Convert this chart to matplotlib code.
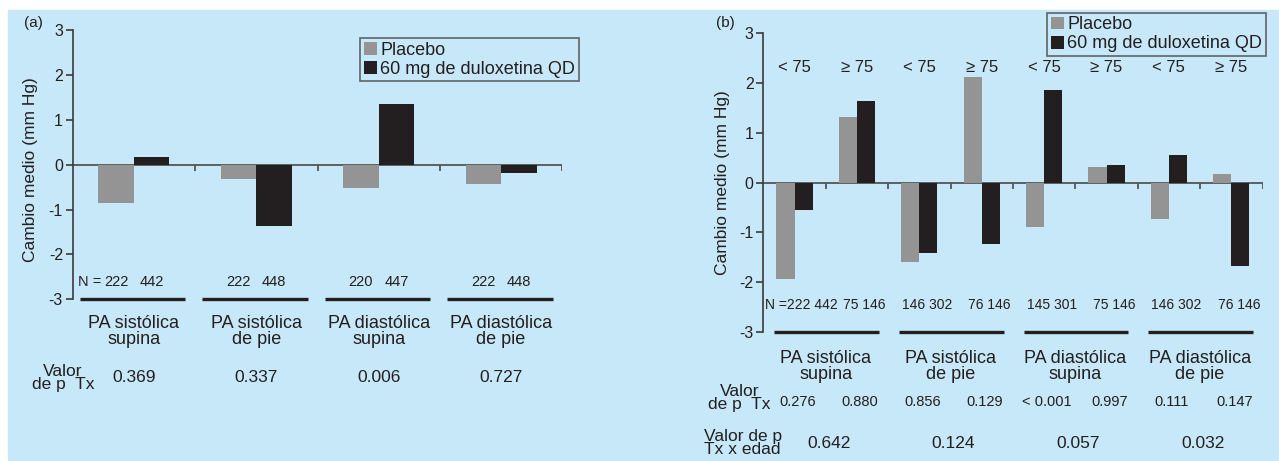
import numpy as np
import matplotlib
matplotlib.use("Agg")
import matplotlib.pyplot as plt
from matplotlib.patches import Rectangle, Patch

plt.rcParams['font.family'] = ['Liberation Sans', 'DejaVu Sans']
plt.rcParams['axes.unicode_minus'] = False

# data
categories = ['PA sistólica\nsupina', 'PA sistólica\nde pie',
              'PA diastólica\nsupina', 'PA diastólica\nde pie']
series_names = ['Placebo', '60 mg de duloxetina QD']

a_placebo = [-0.85, -0.32, -0.51, -0.42]
a_dulox = [0.17, -1.36, 1.35, -0.18]
a_n_placebo = [222, 222, 220, 222]
a_n_dulox = [442, 448, 447, 448]
a_p_tx = ['0.369', '0.337', '0.006', '0.727']

age_labels = ['< 75', '≥ 75'] * 4
b_placebo = [-1.94, 1.32, -1.60, 2.12, -0.90, 0.31, -0.73, 0.18]
b_dulox = [-0.55, 1.64, -1.42, -1.24, 1.86, 0.36, 0.56, -1.68]
b_n_placebo = [222, 75, 146, 76, 145, 75, 146, 76]
b_n_dulox = [442, 146, 302, 146, 301, 146, 302, 146]
b_p_tx = ['0.276', '0.880', '0.856', '0.129', '< 0.001', '0.997', '0.111', '0.147']
b_p_age = ['0.642', '0.124', '0.057', '0.032']

c_placebo = '#949494'
c_dulox = '#231F20'
c_text = '#231F20'
c_bg = '#C6E8F8'
c_axis = '#3a3a3a'

W, H = 1279, 461
fig = plt.figure(figsize=(W / 100, H / 100), dpi=100, facecolor='white')
fig.patches.append(Rectangle((8 / W, 0), 1 - 8 / W, 1 - 10 / H,
                             transform=fig.transFigure, color=c_bg, zorder=-10))


def style_axis(ax, nslots, tick_len):
    ax.set_facecolor('none')
    for s in ['top', 'right', 'bottom']:
        ax.spines[s].set_visible(False)
    ax.spines['left'].set_color(c_axis)
    ax.spines['left'].set_linewidth(1.2)
    ax.set_ylim(-3, 3)
    ax.set_xlim(0, nslots)
    ax.set_yticks(np.arange(-3, 4))
    ax.tick_params(axis='y', length=5, width=1.2, color=c_axis, pad=2,
                   labelsize=11.5, labelcolor=c_text)
    ax.set_xticks([])
    ax.axhline(0, color='#555555', lw=1.3, zorder=1)
    ax.vlines(np.arange(1, nslots + 1), 0, -tick_len, color='#555555', lw=1.3)


def add_legend(ax, x, y):
    handles = [Patch(facecolor=c_placebo, edgecolor='none'),
               Patch(facecolor=c_dulox, edgecolor='none')]
    leg = ax.legend(handles, series_names, loc='upper left',
                    bbox_to_anchor=(x / W, 1 - y / H), bbox_transform=fig.transFigure,
                    borderaxespad=0, fancybox=False, fontsize=13,
                    handlelength=0.72, handleheight=0.72, handletextpad=0.2,
                    labelspacing=0.12, borderpad=0.2, frameon=True)
    fr = leg.get_frame()
    fr.set_edgecolor('#444444')
    fr.set_facecolor('none')
    fr.set_linewidth(1.2)
    for t in leg.get_texts():
        t.set_color(c_text)


# ---- panel (a)
axa = fig.add_axes([72.7 / W, 1 - 299.3 / H, 489.6 / W, 269.3 / H])
style_axis(axa, 4, 0.15)
xa = np.arange(4) + 0.5
bw = 0.29
axa.bar(xa - bw / 2, a_placebo, bw, color=c_placebo, zorder=2)
axa.bar(xa + bw / 2, a_dulox, bw, color=c_dulox, zorder=2)
axa.hlines(np.full(4, -3.0), np.arange(4) + 0.06, np.arange(4) + 0.92,
           color=c_text, lw=2.4, clip_on=False)
axa.text(0.04, -2.62, 'N =', fontsize=10.5, color=c_text, ha='left', va='center')
for i in range(4):
    axa.text(xa[i] - bw / 2, -2.62, str(a_n_placebo[i]), fontsize=10.5, color=c_text,
             ha='center', va='center')
    axa.text(xa[i] + bw / 2, -2.62, str(a_n_dulox[i]), fontsize=10.5, color=c_text,
             ha='center', va='center')
    axa.text(xa[i], -3.72, categories[i], fontsize=13, color=c_text, ha='center',
             va='center', linespacing=0.9, clip_on=False)
    axa.text(xa[i], -4.75, a_p_tx[i], fontsize=12.5, color=c_text, ha='center',
             va='center', clip_on=False)
axa.text(-0.08, -4.75, 'Valor\nde p  Tx', fontsize=12.5, color=c_text, ha='center',
         va='center', linespacing=0.85, clip_on=False)
axa.text(-0.086, 0.48, 'Cambio medio (mm Hg)', transform=axa.transAxes, rotation=90,
         fontsize=12.5, color=c_text, ha='center', va='center')
add_legend(axa, 360, 38)
fig.text(33 / W, 1 - 23 / H, '(a)', fontsize=11, color=c_text, ha='center', va='center')

# ---- panel (b)
axb = fig.add_axes([763.3 / W, 1 - 332.3 / H, 499.2 / W, 299.6 / H])
style_axis(axb, 8, 0.14)
xb = np.arange(8) + 0.5
axb.bar(xb - bw / 2, b_placebo, bw, color=c_placebo, zorder=2)
axb.bar(xb + bw / 2, b_dulox, bw, color=c_dulox, zorder=2)
gstart = np.arange(4) * 2
axb.hlines(np.full(4, -3.0), gstart + 0.17, gstart + 1.85, color=c_text, lw=2.4,
           clip_on=False)
for i in range(8):
    axb.text(xb[i], 2.31, age_labels[i], fontsize=12, color=c_text, ha='center', va='center')
    nstr = f'{b_n_placebo[i]} {b_n_dulox[i]}'
    if i == 0:
        axb.text(0.03, -2.45, 'N =' + nstr, fontsize=10, color=c_text, ha='left',
                 va='center')
    else:
        axb.text(xb[i] + 0.12, -2.45, nstr, fontsize=10, color=c_text, ha='center',
                 va='center')
    axb.text(xb[i] + 0.05, -4.40, b_p_tx[i], fontsize=10.5, color=c_text, ha='center',
             va='center', clip_on=False)
for g in range(4):
    axb.text(gstart[g] + 1, -3.685, categories[g], fontsize=13, color=c_text, ha='center',
             va='center', linespacing=0.9, clip_on=False)
    axb.text(gstart[g] + 1.05, -5.22, b_p_age[g], fontsize=12.5, color=c_text,
             ha='center', va='center', clip_on=False)
axb.text(-0.38, -4.32, 'Valor\nde p  Tx', fontsize=12.5, color=c_text, ha='center',
         va='center', linespacing=0.85, clip_on=False)
axb.text(-0.33, -5.22, 'Valor de p\nTx x edad', fontsize=12.5, color=c_text, ha='center',
         va='center', linespacing=0.85, clip_on=False)
axb.text(-0.0827, 0.498, 'Cambio medio (mm Hg)', transform=axb.transAxes, rotation=90,
         fontsize=12.5, color=c_text, ha='center', va='center')
add_legend(axb, 1047, 12.7)
fig.text(725 / W, 1 - 23 / H, '(b)', fontsize=11, color=c_text, ha='center', va='center')

fig.savefig('out.png', dpi=100, facecolor='white')
